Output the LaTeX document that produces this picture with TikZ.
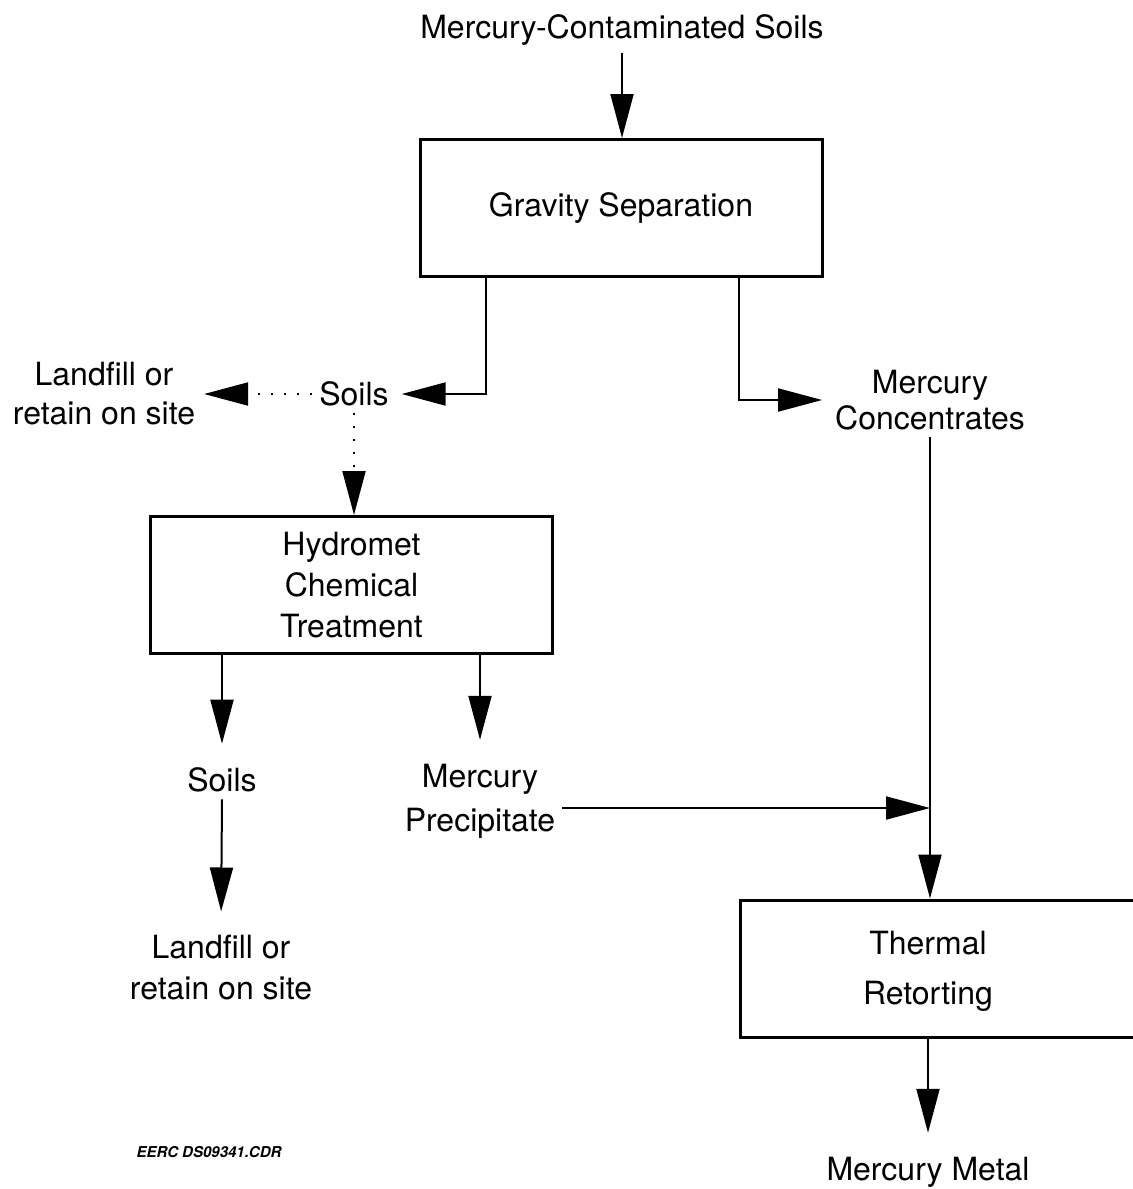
\documentclass[tikz,border=0pt]{standalone}
\usepackage{fontspec}
\setmainfont{TeX Gyre Heros}
\usetikzlibrary{arrows.meta}
\usetikzlibrary{positioning}

\begin{document}
\begin{tikzpicture}[
    x=0.5pt, y=-0.5pt,
    font=\fontsize{16}{20.5}\selectfont
]
\tikzset{
    procbox/.style = {draw=black, line width=1.5pt, align=center, minimum width=201pt, minimum height=68.5pt},
    txt/.style = {align=center},
    edgen/.style = {-{Triangle[length=22pt,width=11.5pt]}, line width=1pt},
    edgel/.style = {edgen, shorten >=8.5pt},
    edged/.style = {edgen, dash pattern=on 1pt off 5.5pt}
}
\useasboundingbox (0,0) rectangle (1133,1189);
\clip (0,0) rectangle (1133,1189);
% top part
\node[txt] at (622,30) (feed) {Mercury-Contaminated Soils};
\node[procbox] at (621,208) (gravity) {Gravity Separation};
\node[txt] at (354,394) (soils1) {Soils};
\node[txt, font=\fontsize{16}{19.5}\selectfont] at (104,394) (landfill1) {Landfill or\\retain on site};
\node[txt, font=\fontsize{16}{18}\selectfont] at (930,400) (conc) {Mercury\\Concentrates};
% middle part
\node[procbox] at (351.5,585) (hydromet) {Hydromet\\Chemical\\Treatment};
\node[txt] at (222,780) (soils2) {Soils};
\node[txt, font=\fontsize{16}{22}\selectfont] at (480,801) (precip) {Mercury\\Precipitate};
\node[txt] at (221,968) (landfill2) {Landfill or\\retain on site};
\coordinate (join) at (930,808);
% bottom part
\node[procbox, minimum width=225pt] at (965,968.5) (thermal) {};
\node[txt, font=\fontsize{16}{25}\selectfont] at (928,971) (thermaltxt) {Thermal\\Retorting};
\node[txt] at (928,1172) (metal) {Mercury Metal};
\node[txt, font=\fontsize{7.5}{9}\selectfont\bfseries\itshape] at (209,1152) (code) {EERC DS09341.CDR};

\draw[edgen] (feed) -- (feed |- gravity.north);
\draw[edgen] ([xshift=33.5pt]gravity.south west) |- ([xshift=3pt]soils1.east);
\draw[edgen] ([xshift=-42.5pt]gravity.south east) |- ([xshift=-3pt]conc.west);
\draw[edged] (soils1.west) -- ([xshift=1pt]landfill1.east);
\draw[edged] (soils1.south) -- (soils1 |- hydromet.north);
\draw[edgel] ([xshift=36.5pt]hydromet.south west) -- (soils2.north);
\draw[edgel] ([xshift=165.5pt]hydromet.south west) -- (precip.north);
\draw[edgel] (soils2.south) -- (landfill2.north);
\draw[edgen] (precip.east |- join) -- (join);
\draw[line width=1pt] (conc.south) -- (join);
\draw[edgen] (join) -- (join |- thermal.north);
\draw[edgel] (thermal.south -| metal) -- (metal.north);
\end{tikzpicture}
\end{document}
